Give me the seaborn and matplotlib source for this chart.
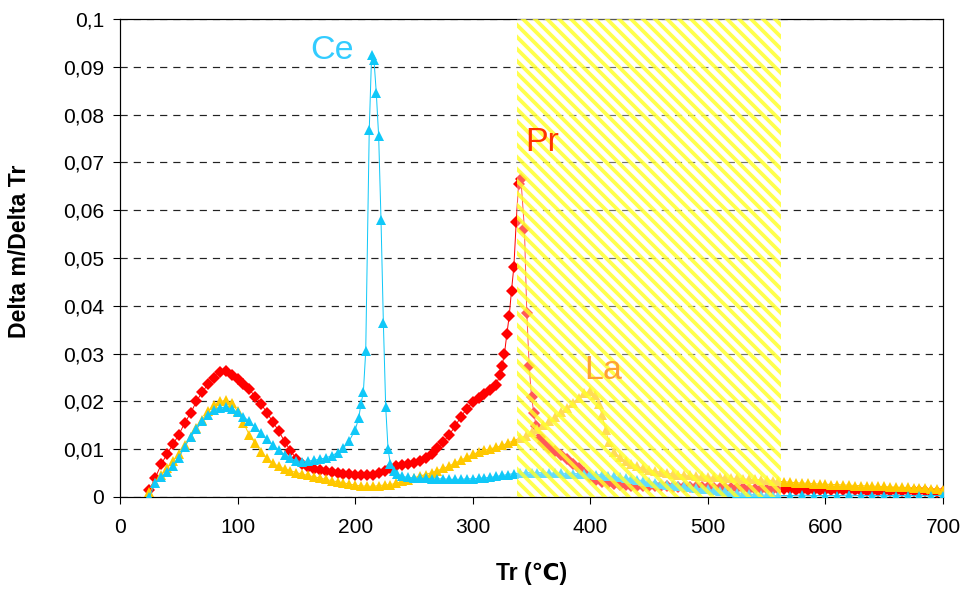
import matplotlib
matplotlib.use("Agg")
import matplotlib.pyplot as plt
import seaborn as sns
import pandas as pd

# ---------------- data ----------------
pr_x = [25, 30, 35, 40, 45, 50, 55, 60, 65, 70, 75, 80, 85, 90, 95, 100, 105, 110, 115, 120,
        125, 130, 135, 140, 145, 150, 155, 160, 165, 170, 175, 180, 185, 190, 195, 200, 205, 210,
        215, 220, 225, 230, 235, 240, 245, 250, 255, 260, 265, 270, 275, 280, 285, 290, 295, 300,
        305, 310, 315, 320, 323, 325, 327, 329, 331, 333, 335, 337, 339, 341, 344, 346, 348, 350,
        352, 354, 357, 360, 365, 370, 375, 380, 385, 390, 395, 400, 405, 410, 415, 420, 425, 430,
        435, 440, 445, 450, 455, 460, 465, 470, 475, 480, 485, 490, 495, 500, 505, 510, 515, 520,
        525, 530, 535, 540, 545, 550, 555, 560, 565, 570, 575, 580, 585, 590, 595, 600, 605, 610,
        615, 620, 625, 630, 635, 640, 645, 650, 655, 660, 665, 670, 675, 680, 685, 690, 695, 700]
pr_y = [0.0015, 0.0040, 0.0068, 0.0090, 0.0110, 0.0130, 0.0155, 0.0175, 0.0200, 0.0220, 0.0236,
        0.0250, 0.0262, 0.0263, 0.0255, 0.0246, 0.0236, 0.0225, 0.0210, 0.0195, 0.0176, 0.0157,
        0.0138, 0.0116, 0.0097, 0.0080, 0.0070, 0.0063, 0.0058, 0.0056, 0.0055, 0.0052, 0.0050,
        0.0049, 0.0048, 0.0047, 0.0046, 0.0046, 0.0047, 0.0050, 0.0055, 0.0060, 0.0064, 0.0066,
        0.0069, 0.0072, 0.0076, 0.0082, 0.0090, 0.0102, 0.0115, 0.0130, 0.0148, 0.0168, 0.0185,
        0.0198, 0.0207, 0.0215, 0.0223, 0.0235, 0.0255, 0.0275, 0.0300, 0.0340, 0.0378, 0.0432,
        0.0482, 0.0575, 0.0655, 0.0665, 0.0560, 0.0385, 0.0275, 0.0210, 0.0175, 0.0148, 0.0125,
        0.0112, 0.0103, 0.0097, 0.0088, 0.0080, 0.0068, 0.0060, 0.0050, 0.0042, 0.0035, 0.0031,
        0.0029, 0.0027, 0.0026, 0.0025, 0.0024, 0.0024, 0.0023, 0.0023, 0.0023, 0.0022, 0.0022,
        0.0021, 0.0021, 0.0021, 0.0020, 0.0020, 0.0020, 0.0020, 0.0019, 0.0019, 0.0019, 0.0018,
        0.0018, 0.0018, 0.0017, 0.0017, 0.0017, 0.0017, 0.0016, 0.0016, 0.0016, 0.0016, 0.0015,
        0.0015, 0.0015, 0.0015, 0.0015, 0.0015, 0.0014, 0.0014, 0.0014, 0.0014, 0.0014, 0.0013,
        0.0013, 0.0013, 0.0013, 0.0013, 0.0013, 0.0012, 0.0012, 0.0012, 0.0012, 0.0012, 0.0012,
        0.0011, 0.0011, 0.0010]

la_x = [25, 30, 35, 40, 45, 50, 55, 60, 65, 70, 75, 80, 85, 90, 95, 100, 105, 110, 115, 120,
        125, 130, 135, 140, 145, 150, 155, 160, 165, 170, 175, 180, 185, 190, 195, 200, 205, 210,
        215, 220, 225, 230, 235, 240, 245, 250, 255, 260, 265, 270, 275, 280, 285, 290, 295, 300,
        305, 310, 315, 320, 325, 330, 335, 340, 345, 350, 355, 360, 365, 370, 375, 380, 385, 390,
        395, 400, 404, 407, 410, 413, 416, 420, 425, 430, 435, 440, 445, 450, 455, 460, 465, 470,
        475, 480, 485, 490, 495, 500, 505, 510, 515, 520, 525, 530, 535, 540, 545, 550, 555, 560,
        565, 570, 575, 580, 585, 590, 595, 600, 605, 610, 615, 620, 625, 630, 635, 640, 645, 650,
        655, 660, 665, 670, 675, 680, 685, 690, 695, 700]
la_y = [0.0010, 0.0030, 0.0045, 0.0060, 0.0075, 0.0090, 0.0108, 0.0125, 0.0145, 0.0162, 0.0180,
        0.0192, 0.0200, 0.0202, 0.0196, 0.0180, 0.0155, 0.0130, 0.0112, 0.0095, 0.0081, 0.0071,
        0.0064, 0.0059, 0.0055, 0.0051, 0.0048, 0.0045, 0.0042, 0.0040, 0.0037, 0.0034, 0.0032,
        0.0030, 0.0027, 0.0025, 0.0023, 0.0023, 0.0022, 0.0024, 0.0025, 0.0026, 0.0029, 0.0033,
        0.0036, 0.0040, 0.0044, 0.0047, 0.0051, 0.0055, 0.0060, 0.0065, 0.0071, 0.0077, 0.0083,
        0.0089, 0.0094, 0.0098, 0.0101, 0.0104, 0.0108, 0.0113, 0.0118, 0.0123, 0.0128, 0.0135,
        0.0142, 0.0150, 0.0160, 0.0168, 0.0177, 0.0187, 0.0197, 0.0207, 0.0217, 0.0222, 0.0214,
        0.0195, 0.0172, 0.0140, 0.0115, 0.0095, 0.0083, 0.0075, 0.0069, 0.0064, 0.0060, 0.0056,
        0.0054, 0.0052, 0.0050, 0.0048, 0.0047, 0.0046, 0.0045, 0.0044, 0.0043, 0.0042, 0.0041,
        0.0041, 0.0040, 0.0039, 0.0039, 0.0038, 0.0037, 0.0037, 0.0036, 0.0035, 0.0034, 0.0033,
        0.0032, 0.0031, 0.0030, 0.0029, 0.0029, 0.0028, 0.0027, 0.0027, 0.0026, 0.0026, 0.0025,
        0.0025, 0.0024, 0.0024, 0.0023, 0.0023, 0.0022, 0.0022, 0.0021, 0.0021, 0.0020, 0.0020,
        0.0019, 0.0019, 0.0018, 0.0017, 0.0016, 0.0015]

ce_x = [25, 30, 35, 40, 45, 50, 55, 60, 65, 70, 75, 80, 85, 90, 95, 100, 105, 110, 115, 120,
        125, 130, 135, 140, 145, 150, 155, 160, 165, 170, 175, 180, 185, 190, 195, 200, 203, 205,
        207, 209, 212, 214, 216, 218, 220, 222, 224, 226, 228, 230, 233, 236, 240, 245, 250, 255,
        260, 265, 270, 275, 280, 285, 290, 295, 300, 305, 310, 315, 320, 325, 330, 335, 340, 345,
        350, 355, 360, 365, 370, 375, 380, 385, 390, 395, 400, 405, 410, 415, 420, 425, 430, 435,
        440, 445, 450, 455, 460, 465, 470, 475, 480, 485, 490, 495, 500, 505, 510, 515, 520, 525,
        530, 535, 540, 545, 550, 555, 560, 570, 580, 590, 600, 610, 620, 630, 640, 650, 660, 670,
        680, 690, 700]
ce_y = [0.0000, 0.0030, 0.0042, 0.0052, 0.0065, 0.0082, 0.0105, 0.0125, 0.0142, 0.0158, 0.0172,
        0.0182, 0.0187, 0.0188, 0.0184, 0.0177, 0.0168, 0.0158, 0.0146, 0.0134, 0.0121, 0.0109,
        0.0098, 0.0088, 0.0081, 0.0076, 0.0074, 0.0075, 0.0077, 0.0079, 0.0082, 0.0086, 0.0093,
        0.0102, 0.0118, 0.0140, 0.0165, 0.0195, 0.0220, 0.0305, 0.0768, 0.0925, 0.0915, 0.0845,
        0.0755, 0.0580, 0.0365, 0.0188, 0.0100, 0.0068, 0.0055, 0.0048, 0.0043, 0.0041, 0.0040,
        0.0039, 0.0039, 0.0038, 0.0038, 0.0038, 0.0037, 0.0037, 0.0037, 0.0038, 0.0038, 0.0039,
        0.0040, 0.0041, 0.0043, 0.0045, 0.0047, 0.0049, 0.0050, 0.0051, 0.0051, 0.0051, 0.0051,
        0.0050, 0.0050, 0.0050, 0.0049, 0.0049, 0.0049, 0.0048, 0.0048, 0.0047, 0.0046, 0.0044,
        0.0043, 0.0041, 0.0040, 0.0038, 0.0036, 0.0034, 0.0032, 0.0030, 0.0028, 0.0026, 0.0025,
        0.0023, 0.0022, 0.0020, 0.0019, 0.0017, 0.0016, 0.0014, 0.0013, 0.0012, 0.0010, 0.0009,
        0.0007, 0.0006, 0.0005, 0.0004, 0.0004, 0.0003, 0.0003, 0.0003, 0.0004, 0.0003, 0.0003,
        0.0003, 0.0004, 0.0003, 0.0003, 0.0003, 0.0003, 0.0003, 0.0003, 0.0003, 0.0003]

hatch_range = [338, 562]
x_ticks = [0, 100, 200, 300, 400, 500, 600, 700]
y_ticks = [0, 0.01, 0.02, 0.03, 0.04, 0.05, 0.06, 0.07, 0.08, 0.09, 0.1]
y_tick_labels = ["0", "0,01", "0,02", "0,03", "0,04", "0,05", "0,06", "0,07", "0,08", "0,09", "0,1"]
labels = [("Ce", 180, 0.0935, "#33CCFF"), ("Pr", 359, 0.0741, "#FF3300"), ("La", 411, 0.0264, "#FFA033")]

# ---------------- style ----------------
sns.set_theme(style="ticks")
plt.rcParams["font.family"] = ["Liberation Sans", "DejaVu Sans"]
plt.rcParams["hatch.linewidth"] = 3.8

W, H, DPI = 968, 590, 72
fig = plt.figure(figsize=(W / DPI, H / DPI), dpi=DPI)
ax = fig.add_axes([120 / W, 93 / H, 823 / W, 478 / H])

df_pr = pd.DataFrame({"x": pr_x, "y": pr_y})
df_la = pd.DataFrame({"x": la_x, "y": la_y})
df_ce = pd.DataFrame({"x": ce_x, "y": ce_y})

sns.lineplot(data=df_pr, x="x", y="y", ax=ax, color="#FF0000", linewidth=1.0,
             marker="D", markersize=8, markeredgewidth=0, estimator=None, sort=False, zorder=3)
sns.lineplot(data=df_la, x="x", y="y", ax=ax, color="#FFC800", linewidth=1.0,
             marker="^", markersize=10.5, markeredgewidth=0, estimator=None, sort=False, zorder=3.1)
sns.lineplot(data=df_ce, x="x", y="y", ax=ax, color="#10C8F8", linewidth=1.0,
             marker="^", markersize=10.5, markeredgewidth=0, estimator=None, sort=False, zorder=3.2)

# hatched overlay
ax.axvspan(hatch_range[0], hatch_range[1], facecolor=(1, 1, 1, 0.35),
           edgecolor=(1.0, 1.0, 0.15, 0.82), hatch="\\\\", linewidth=0, zorder=5)

for txt, tx, ty, tc in labels:
    ax.text(tx, ty, txt, color=tc, fontsize=34, ha="center", va="center", zorder=10)

ax.set_xlim(0, 700)
ax.set_ylim(0, 0.1)
ax.set_xticks(x_ticks)
ax.set_xticklabels([str(v) for v in x_ticks])
ax.set_yticks(y_ticks)
ax.set_yticklabels(y_tick_labels)

ax.yaxis.grid(True, color="#222222", linewidth=1.2, linestyle=(0, (6, 5)))
ax.xaxis.grid(False)
ax.set_axisbelow(True)

for s in ax.spines.values():
    s.set_visible(True)
    s.set_color("#000000")
    s.set_linewidth(1.2)

ax.tick_params(axis="both", direction="out", length=7, width=1.1, labelsize=21,
               color="#000000", labelcolor="#000000")
ax.tick_params(axis="y", pad=9)
ax.tick_params(axis="x", pad=14)

ax.set_xlabel("Tr (℃)", fontsize=23, fontweight="bold", color="black")
ax.set_ylabel("Delta m/Delta Tr", fontsize=23, fontweight="bold", color="black")
ax.xaxis.set_label_coords(0.5, -0.135)
ax.yaxis.set_label_coords(-0.108, 0.513)

fig.savefig("out.png", dpi=DPI)
